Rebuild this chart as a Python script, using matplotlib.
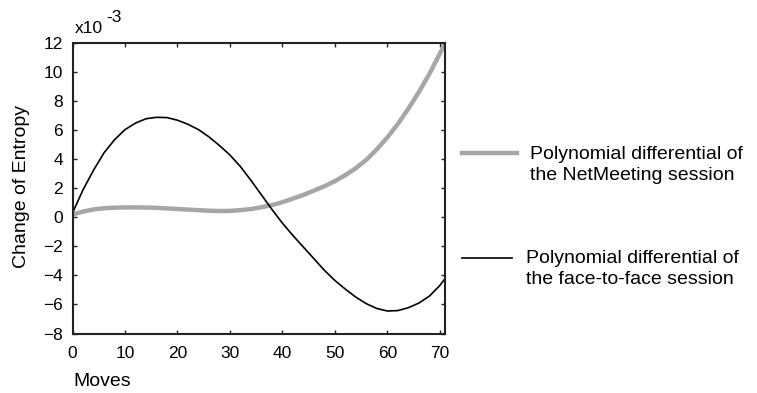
import numpy as np
import matplotlib
matplotlib.use("Agg")
import matplotlib.pyplot as plt
from matplotlib.lines import Line2D

plt.rcParams["font.family"] = ["Liberation Sans", "DejaVu Sans"]

# moves (x) and entropy change in units of 1e-3
moves = [0, 2, 4, 6, 8, 10, 12, 14, 16, 18, 20, 22, 24, 26, 28, 30, 32, 34, 36,
         38, 40, 42, 44, 46, 48, 50, 52, 54, 56, 58, 60, 62, 64, 66, 68, 70, 71]
netmeeting = [0.2, 0.4, 0.55, 0.63, 0.67, 0.69, 0.69, 0.68, 0.66, 0.62, 0.58,
              0.54, 0.5, 0.46, 0.44, 0.45, 0.5, 0.58, 0.7, 0.85, 1.05, 1.3,
              1.55, 1.85, 2.15, 2.5, 2.92, 3.4, 3.98, 4.7, 5.52, 6.45, 7.5,
              8.65, 9.9, 11.3, 12.0]
face_to_face = [0.3, 1.9, 3.25, 4.45, 5.35, 6.05, 6.5, 6.8, 6.9, 6.88, 6.7,
                6.42, 6.05, 5.55, 4.95, 4.3, 3.5, 2.55, 1.55, 0.55, -0.4,
                -1.25, -2.05, -2.85, -3.65, -4.35, -4.95, -5.5, -5.95, -6.28,
                -6.45, -6.42, -6.22, -5.9, -5.42, -4.68, -4.2]

labels = ["Polynomial differential of\nthe NetMeeting session",
          "Polynomial differential of\nthe face-to-face session"]
xticks = [0, 10, 20, 30, 40, 50, 60, 70]
yticks = [-8, -6, -4, -2, 0, 2, 4, 6, 8, 10, 12]

W, H = 757, 393
fig = plt.figure(figsize=(W / 100, H / 100), dpi=100)
ax = fig.add_axes([72.5 / W, 1 - 333.5 / H, (445.2 - 72.5) / W, (333.5 - 43.3) / H])

ax.plot(moves, netmeeting, color="#a6a6a6", lw=3.2, solid_capstyle="butt")
ax.plot(moves, face_to_face, color="black", lw=1.2)

ax.set_xlim(0, 71)
ax.set_ylim(-8, 12)
ax.set_xticks(xticks)
ax.set_yticks(yticks)
ax.tick_params(direction="in", length=3, width=1, top=True, right=True,
               labelsize=12.5, color="#222222")
ax.tick_params(axis="y", pad=7)
ax.tick_params(axis="x", pad=9)
for s in ax.spines.values():
    s.set_color("#222222")
    s.set_linewidth(1.5)

fig.text(22 / W, 1 - 186 / H, "Change of Entropy", rotation=90, ha="center",
         va="center", fontsize=14)
fig.text(73 / W, 1 - 382 / H, "Moves", ha="left", va="center", fontsize=14)
fig.text(75 / W, 1 - 33 / H, "x10", ha="left", va="baseline", fontsize=12.5)
fig.text(106 / W, 1 - 22 / H, "-3", ha="left", va="baseline", fontsize=12.5)

# legend drawn outside the axes
fig.add_artist(Line2D([462 / W, 517 / W], [1 - 153 / H, 1 - 153 / H],
                      color="#a6a6a6", lw=3.2, transform=fig.transFigure))
fig.text(530 / W, 1 - 165 / H, labels[0], ha="left", va="center",
         fontsize=14, linespacing=1.25)
fig.add_artist(Line2D([462 / W, 512 / W], [1 - 258 / H, 1 - 258 / H],
                      color="black", lw=1.2, transform=fig.transFigure))
fig.text(526 / W, 1 - 269 / H, labels[1], ha="left", va="center",
         fontsize=14, linespacing=1.25)

fig.savefig("out.png", dpi=100)
